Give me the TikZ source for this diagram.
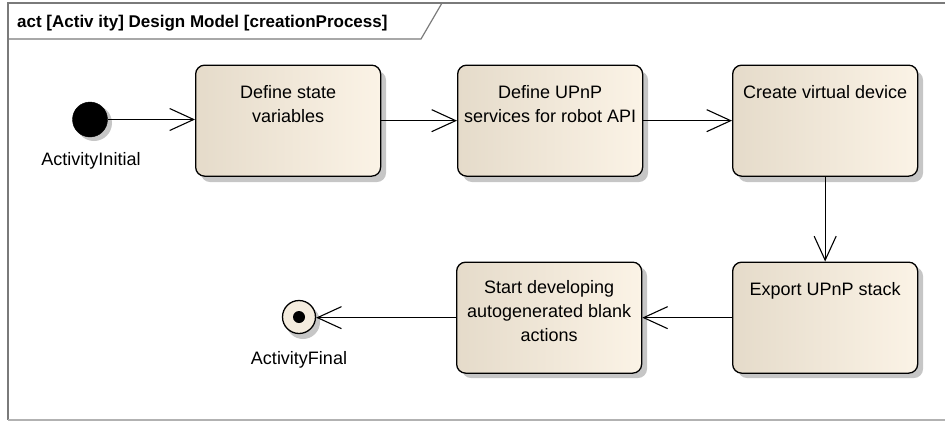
\documentclass[tikz,border=0pt]{standalone}
\usepackage{fontspec}
\setmainfont{Liberation Sans}
\usetikzlibrary{arrows.meta}
\definecolor{boxL}{HTML}{E5DBCA}
\definecolor{boxR}{HTML}{FBF3E6}
\definecolor{shad}{HTML}{C6C6C6}
\definecolor{frameC}{HTML}{7A7A7A}
\begin{document}
\begin{tikzpicture}[x=1pt,y=-1pt,
  font=\fontsize{18}{24}\selectfont,
  actbox/.style={draw=black, line width=1.3pt, rounded corners=9pt,
    left color=boxL, right color=boxR, minimum width=185pt, minimum height=111pt,
    inner sep=0pt, anchor=north west},
  boxtext/.style={align=center, anchor=north, inner sep=0pt,
    execute at begin node={\rule{0pt}{13pt}}},
  shadowbox/.style={fill=shad, rounded corners=9pt},
  flow/.style={line width=1.1pt, -{Straight Barb[length=24pt,width=22pt,line width=1.1pt]}},
  lbl/.style={inner sep=0pt}
]
\useasboundingbox (0,0) rectangle (945,421);
% frame
\draw[frameC, line width=1.6pt] (945,3) -- (8,3) -- (8,420);
\draw[gray!60, line width=1.4pt] (8,420) -- (945,420);
\draw[frameC, line width=1.2pt] (8,39) -- (421,39) -- (442,3);
\node[lbl, anchor=base west, font=\bfseries\fontsize{17}{20}\selectfont] (title) at (17,27) {act [Activ ity] Design Model [creationProcess]};

% shadows
\foreach \x/\y in {195/65, 457/65, 732/65, 732/261, 456/261}{
  \fill[shadowbox] (\x+6,\y+6) rectangle ++(185,111);
}
\fill[shad] (94,123) circle (18);
\fill[shad] (303,322) circle (17);

% initial
\node[draw=black, fill=black, circle, minimum size=35pt, inner sep=0pt] (init) at (90,119.5) {};
\node[lbl, anchor=base] (initlbl) at (91,165) {ActivityInitial};

% actions
\node[actbox] (a1) at (195,64.5) {};
\node[boxtext] (t1) at ([yshift=-21pt]a1.north) {Define state\\variables};
\node[actbox] (a2) at (457,64.5) {};
\node[boxtext] (t2) at ([yshift=-21pt]a2.north) {Define UPnP\\services for robot API};
\node[actbox] (a3) at (732,64.5) {};
\node[boxtext] (t3) at ([yshift=-21pt]a3.north) {Create virtual device};
\node[actbox] (a4) at (732,261.5) {};
\node[boxtext] (t4) at ([yshift=-21pt]a4.north) {Export UPnP stack};
\node[actbox] (a5) at (456,261.5) {};
\node[boxtext] (t5) at ([yshift=-19pt]a5.north) {Start developing\\autogenerated blank\\actions};

% final
\node[draw=black, fill=boxR!70!boxL, circle, line width=1.3pt, minimum size=33pt, inner sep=0pt] (fin) at (299,317) {};
\fill[black] (fin.center) circle (6);
\node[lbl, anchor=base] (finlbl) at (299,364) {ActivityFinal};

% flows
\draw[flow] (init.east) -- (init.east -| a1.west);
\draw[flow] (a1.east) -- (a2.west);
\draw[flow] (a2.east) -- (a3.west);
\draw[flow] (a3.south) -- (a4.north);
\draw[flow] (a4.west) -- (a5.east);
\draw[flow] (a5.west) -- (a5.west -| fin.east);
\end{tikzpicture}
\end{document}
